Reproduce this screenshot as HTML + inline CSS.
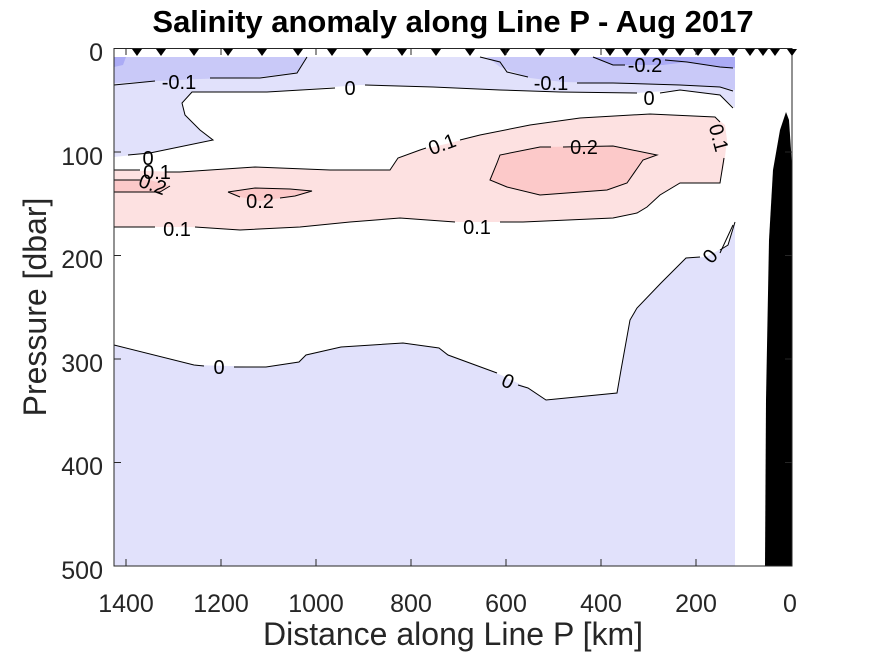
<!DOCTYPE html>
<html><head><meta charset="utf-8"><style>
html,body{margin:0;padding:0;background:#fff;}
svg{display:block;font-family:"Liberation Sans",Arial,sans-serif;}
</style></head><body>
<svg width="875" height="656" viewBox="0 0 875 656" xmlns="http://www.w3.org/2000/svg">
<rect width="875" height="656" fill="#fff"/>
<rect x="114" y="57" width="621" height="509" fill="#e1e1fb"/>
<polygon fill="#fff" points="114,157 150,153 213,140 200,130 185,115 182,103 192,92 267,92 333,87 360,85 433,87 500,90 560,92 637,93 680,90 720,95 735,108 735,222 728,245 706,257 686,258 661,283 637,308 630,320 621,370 617,393 546,400 528,388 501,375 448,355 439,348 403,343 341,347 306,355 299,362 266,367 194,365 114,345"/>
<polygon fill="#fde1e1" points="114,170 180,172 255,167 330,170 390,170 398,158 420,150 450,143 480,135 530,125 580,118 650,114 715,117 725,125 727,140 724,165 720,183 680,183 660,195 647,207 637,213 613,218 523,222 450,222 400,218 350,222 300,227 240,230 190,227 114,227"/>
<polygon fill="#fcc9c9" points="114,180 150,180 170,186 160,192 114,192"/>
<polygon fill="#fcc9c9" points="228,192 255,188 290,189 312,191 295,196 260,201 240,197"/>
<polygon fill="#fcc9c9" points="500,155 540,147 613,146 657,155 643,160 627,183 607,190 540,195 507,187 490,180 497,163"/>
<polygon fill="#c9c9f8" points="114,57 307,57 298,72 260,77 200,79 114,83"/>
<polygon fill="#c9c9f8" points="487,57 735,57 735,90 720,87 680,85 613,83 563,82 530,78 500,67"/>
<polygon fill="#ababf5" points="590,57 735,57 735,68 720,67 687,62 663,65 613,65 600,60"/>
<polygon fill="#ababf5" points="114,57 126,57 123,65 114,67"/>
<g fill="none" stroke="#000" stroke-width="1">
<polyline points="114,85 155,81"/>
<polyline points="210,78 260,78 297,73 307,57"/>
<polyline points="480,57 500,62 507,72 528,77"/>
<polyline points="577,83 613,83 680,85 720,87 733,91"/>
<polyline points="593,57 613,65 625,65"/>
<polyline points="665,60 687,62 720,67 733,68"/>
<polyline points="128,155 150,153 213,140 200,130 185,115 182,103 192,92 267,92 335,88"/>
<polyline points="365,85 433,87 500,90 560,92 637,93"/>
<polyline points="660,93 680,90 720,95 733,108"/>
<polyline points="114,345 194,365 204,366"/>
<polyline points="234,367 266,367 299,362 306,355 341,347 403,343 439,348 448,355 497,373"/>
<polyline points="518,385 528,388 546,400 617,393 621,370 630,320 637,308 661,283 686,258 700,257"/>
<polyline points="720,250 728,245 735,222"/>
<polyline points="114,170 140,170"/>
<polyline points="165,172 180,172 255,167 330,170 390,170 398,158 420,150 426,148"/>
<polyline points="460,140 480,135 530,125 580,118 650,114 715,117 720,122"/>
<polyline points="724,158 720,183 680,183 660,195 647,207 637,213 613,218 523,222 500,222"/>
<polyline points="455,222 400,218 350,222 300,227 240,230 195,227"/>
<polyline points="114,227 155,227"/>
<polyline points="114,180 140,180"/>
<polyline points="170,186 160,192 114,192"/>
<polyline points="228,192 255,188 290,189 312,191 295,196 280,198"/>
<polyline points="240,197 228,192"/>
<polyline points="563,147 613,146 657,155 643,160 627,183 607,190 540,195 507,187 490,180 497,163 500,155 540,147 551,147"/>
<polyline points="720,253 733,225"/>
</g>
<g font-size="20" fill="#000" text-anchor="middle">
<text x="179" y="89">-0.1</text>
<text x="551" y="90">-0.1</text>
<text x="645" y="72">-0.2</text>
<text x="350" y="95">0</text>
<text x="649" y="105">0</text>
<text x="148" y="165">0</text>
<text x="157" y="179">0.1</text>
<text x="152" y="191" transform="rotate(20 152 186)">0.2</text>
<text x="260" y="208">0.2</text>
<text x="584" y="154">0.2</text>
<text x="442" y="151" transform="rotate(-20 442 144)">0.1</text>
<text x="718" y="144" transform="rotate(75 718 138)">0.1</text>
<text x="177" y="236">0.1</text>
<text x="477" y="234">0.1</text>
<text x="219" y="374">0</text>
<text x="508" y="388" transform="rotate(25 508 381)">0</text>
<text x="710" y="263" transform="rotate(-50 710 256)">0</text>
</g>
<polygon fill="#000" points="765,566 766,400 769,240 773,170 780,130 786,112 789,120 791,150 792,172 792,566"/>
<rect x="114" y="48.5" width="678" height="517.5" fill="none" stroke="#262626" stroke-width="1"/>
<g fill="#000">
<polygon points="132,49 142,49 137,56"/><polygon points="156,49 166,49 161,56"/>
<polygon points="189,49 199,49 194,56"/><polygon points="223,49 233,49 228,56"/>
<polygon points="257,49 267,49 262,56"/><polygon points="293,49 303,49 298,56"/>
<polygon points="327,49 337,49 332,56"/><polygon points="362,49 372,49 367,56"/>
<polygon points="397,49 407,49 402,56"/><polygon points="431,49 441,49 436,56"/>
<polygon points="465,49 475,49 470,56"/><polygon points="500,49 510,49 505,56"/>
<polygon points="535,49 545,49 540,56"/><polygon points="570,49 580,49 575,56"/>
<polygon points="605,49 615,49 610,56"/><polygon points="622,49 632,49 627,56"/>
<polygon points="640,49 650,49 645,56"/><polygon points="658,49 668,49 663,56"/>
<polygon points="675,49 685,49 680,56"/><polygon points="693,49 703,49 698,56"/>
<polygon points="710,49 720,49 715,56"/><polygon points="728,49 738,49 733,56"/>
<polygon points="745,49 755,49 750,56"/><polygon points="758,49 768,49 763,56"/>
<polygon points="770,49 780,49 775,56"/><polygon points="787,49 797,49 792,56"/>
</g>
<g stroke="#262626" stroke-width="1">
<line x1="126" y1="566" x2="126" y2="559"/><line x1="221" y1="566" x2="221" y2="559"/>
<line x1="316" y1="566" x2="316" y2="559"/><line x1="411" y1="566" x2="411" y2="559"/>
<line x1="506" y1="566" x2="506" y2="559"/><line x1="601" y1="566" x2="601" y2="559"/>
<line x1="696" y1="566" x2="696" y2="559"/>
<line x1="126" y1="48.5" x2="126" y2="55"/><line x1="221" y1="48.5" x2="221" y2="55"/>
<line x1="316" y1="48.5" x2="316" y2="55"/><line x1="411" y1="48.5" x2="411" y2="55"/>
<line x1="506" y1="48.5" x2="506" y2="55"/><line x1="601" y1="48.5" x2="601" y2="55"/>
<line x1="696" y1="48.5" x2="696" y2="55"/>
<line x1="114" y1="152" x2="121" y2="152"/><line x1="114" y1="255.5" x2="121" y2="255.5"/>
<line x1="114" y1="359" x2="121" y2="359"/><line x1="114" y1="462.5" x2="121" y2="462.5"/>
<line x1="792" y1="152" x2="785" y2="152"/><line x1="792" y1="255.5" x2="785" y2="255.5"/>
<line x1="792" y1="359" x2="785" y2="359"/><line x1="792" y1="462.5" x2="785" y2="462.5"/>
</g>
<g font-size="25" fill="#262626" text-anchor="middle">
<text x="126" y="612">1400</text><text x="221" y="612">1200</text>
<text x="316" y="612">1000</text><text x="411" y="612">800</text>
<text x="506" y="612">600</text><text x="601" y="612">400</text>
<text x="696" y="612">200</text><text x="790" y="612">0</text>
</g>
<g font-size="25" fill="#262626" text-anchor="end">
<text x="103" y="61">0</text><text x="103" y="165">100</text>
<text x="103" y="268">200</text><text x="103" y="372">300</text>
<text x="103" y="475">400</text><text x="103" y="579">500</text>
</g>
<text x="453" y="645" font-size="32" fill="#262626" text-anchor="middle">Distance along Line P [km]</text>
<text x="0" y="0" font-size="32" fill="#262626" text-anchor="middle" transform="translate(46 307) rotate(-90)">Pressure [dbar]</text>
<text x="453" y="32" font-size="31" font-weight="bold" fill="#000" text-anchor="middle">Salinity anomaly along Line P - Aug 2017</text>
</svg>
</body></html>
